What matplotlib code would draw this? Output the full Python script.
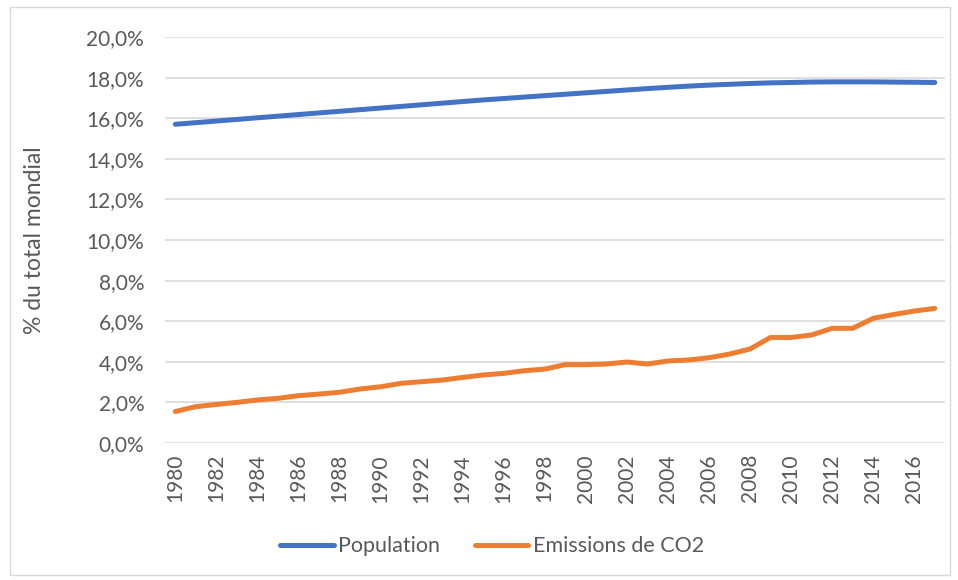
import matplotlib
matplotlib.use("Agg")
import matplotlib.pyplot as plt
from matplotlib.ticker import FuncFormatter, MultipleLocator
from matplotlib.patches import Rectangle

annees = list(range(1980, 2018))

# part de la population mondiale (%)
population = [15.70, 15.78, 15.86, 15.94, 16.02, 16.10, 16.18, 16.26, 16.34, 16.42,
              16.50, 16.58, 16.66, 16.74, 16.82, 16.90, 16.97, 17.04, 17.11, 17.18,
              17.25, 17.32, 17.39, 17.46, 17.52, 17.58, 17.63, 17.67, 17.71, 17.74,
              17.76, 17.78, 17.79, 17.79, 17.79, 17.78, 17.77, 17.76]

# part des emissions de CO2 mondiales (%)
emissions = [1.55, 1.79, 1.90, 2.00, 2.12, 2.20, 2.33, 2.41, 2.50, 2.66,
             2.77, 2.94, 3.02, 3.10, 3.23, 3.35, 3.43, 3.56, 3.64, 3.86,
             3.86, 3.89, 3.99, 3.89, 4.04, 4.09, 4.20, 4.38, 4.63, 5.20,
             5.20, 5.32, 5.65, 5.65, 6.14, 6.33, 6.50, 6.63]

bleu = "#4472C4"
orange = "#ED7D31"
gris_txt = "#595959"

plt.rcParams['font.family'] = ['Lato', 'DejaVu Sans']

fig = plt.figure(figsize=(9.58, 5.8), dpi=100)
ax = fig.add_axes([165 / 958, 1 - 443 / 580, 780 / 958, 406 / 580])

# cadre gris autour du graphique
fig.patches.append(Rectangle((10 / 958, 5 / 580), 940 / 958, 568 / 580, transform=fig.transFigure,
                             fill=False, edgecolor="#d9d9d9", linewidth=1))

ax.plot(annees, population, color=bleu, linewidth=3.6, solid_capstyle="round", label="Population")
ax.plot(annees, emissions, color=orange, linewidth=3.6, solid_capstyle="round", label="Emissions de CO2")

ax.set_xlim(1979.5, 2017.5)
ax.set_ylim(0, 20)
ax.yaxis.set_major_locator(MultipleLocator(2))
ax.yaxis.set_major_formatter(FuncFormatter(lambda v, p: f"{v:.1f}%".replace(".", ",")))
ax.set_xticks(annees[::2])
ax.set_xticklabels([str(a) for a in annees[::2]], rotation=90)

ax.grid(axis="y", color="#d9d9d9", linewidth=1.2)
ax.set_axisbelow(True)
for s in ax.spines.values():
    s.set_visible(False)
ax.tick_params(length=0, labelsize=15, colors=gris_txt)
ax.tick_params(axis="y", pad=15)
ax.tick_params(axis="x", pad=8)

ax.set_ylabel("% du total mondial", fontsize=16.5, color=gris_txt)
ax.yaxis.set_label_coords((45 - 165) / 780, 0.5)

fig.legend(loc="center", bbox_to_anchor=(492 / 958, 1 - 546 / 580), ncol=2, frameon=False,
           fontsize=15.5, labelcolor=gris_txt, handlelength=2.5, columnspacing=1.6,
           handletextpad=0.2, handleheight=0.5)

fig.savefig("out.png", dpi=100)
